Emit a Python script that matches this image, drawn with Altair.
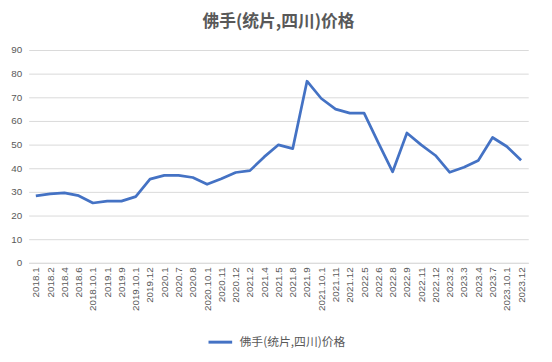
import altair as alt
import pandas as pd

periods = ["2018.1", "2018.2", "2018.4", "2018.6", "2018.10.1", "2019.1", "2019.9",
           "2019.10.1", "2019.12", "2020.1", "2020.7", "2020.8", "2020.10.1", "2020.11",
           "2020.12", "2021.2", "2021.4", "2021.5", "2021.8", "2021.9", "2021.10.1",
           "2021.11", "2021.12", "2022.5", "2022.6", "2022.8", "2022.9", "2022.11",
           "2022.12", "2023.2", "2023.3", "2023.4", "2023.7", "2023.10.1", "2023.12"]
prices = [28.3, 29.2, 29.6, 28.4, 25.3, 26.1, 26.1,
          28.0, 35.4, 37.0, 37.0, 36.1, 33.2, 35.6,
          38.2, 39.0, 44.8, 49.9, 48.3, 76.8, 69.5,
          65.0, 63.3, 63.3, 50.7, 38.5, 54.9, 49.9,
          45.4, 38.3, 40.4, 43.3, 53.0, 49.2, 43.4]
series_name = "佛手(统片,四川)价格"

df = pd.DataFrame({"period": periods, "price": prices, "series": series_name})

grey = "#595959"
grid = "#d9d9d9"

chart = alt.Chart(df).mark_line(strokeWidth=2.75, strokeJoin="round").encode(
    x=alt.X("period:O", sort=None, title=None,
            scale=alt.Scale(padding=0.5),
            axis=alt.Axis(labelAngle=-90, labelFontSize=10, labelColor=grey,
                          labelFont="Liberation Sans", ticks=False,
                          domainColor=grid, labelPadding=4, labelLimit=60)),
    y=alt.Y("price:Q", title=None,
            scale=alt.Scale(domain=[0, 90], nice=False),
            axis=alt.Axis(values=list(range(0, 91, 10)), labelFontSize=10, labelColor=grey,
                          labelFont="Liberation Sans", ticks=False, domain=False,
                          gridColor=grid, labelPadding=7)),
    color=alt.Color("series:N", scale=alt.Scale(range=["#4472C4"]),
                    legend=alt.Legend(title=None, orient="none", legendX=181, legendY=283,
                                      symbolType="stroke", symbolStrokeWidth=3,
                                      symbolSize=576, labelFontSize=12, labelOffset=6,
                                      labelColor=grey, labelFont="Noto Sans CJK SC")),
).properties(
    width=507, height=216,
    autosize=alt.AutoSizeParams(type="none"),
    padding={"left": 21, "top": 40, "right": 16, "bottom": 98},
    title=alt.TitleParams(series_name, fontSize=17, font="Noto Sans CJK SC",
                          fontWeight="bold", color=grey, anchor="middle", offset=14),
    background="white",
).configure_view(stroke=None)

chart.save("out.html", embed_options={"renderer": "svg", "actions": False})
